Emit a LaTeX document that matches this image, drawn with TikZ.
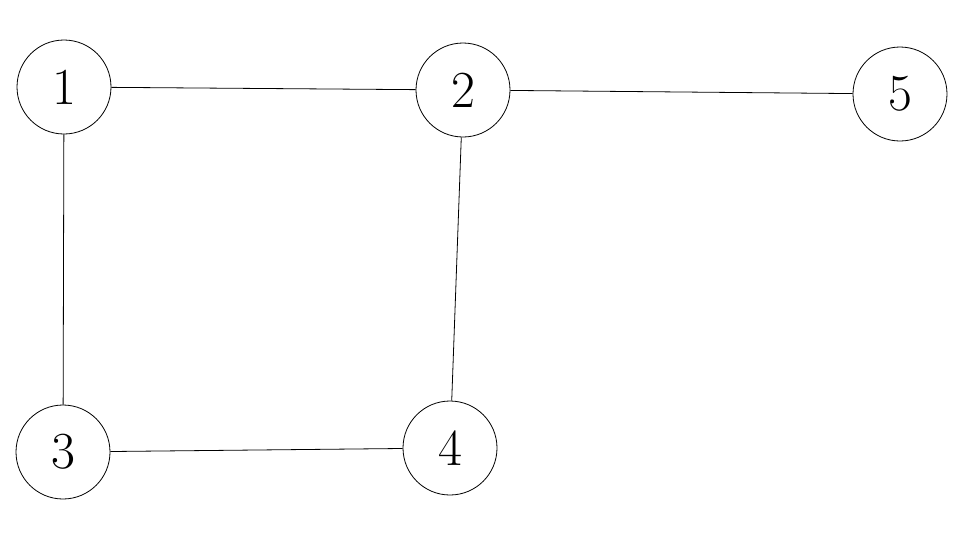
\documentclass[tikz,border=0pt]{standalone}
\usepackage{tikz}
\usetikzlibrary{positioning}

\begin{document}
\begin{tikzpicture}[
      x=0.5pt,y=-0.5pt,
      vertex/.style={circle,draw=black,thin,fill=white,inner sep=0pt,
        minimum size=47pt,font=\fontsize{26}{30}\selectfont},
      link/.style={draw=black,thin}
    ]
      \useasboundingbox (0,0) rectangle (980,536);

      \node[vertex] (v1) at (64,87) {1};
      \node[vertex] (v2) at (463,90) {2};
      \node[vertex] (v5) at (900,94) {5};
      \node[vertex] (v3) at (63,452) {3};
      \node[vertex] (v4) at (450,448) {4};

      \draw[link] (v1) -- (v2);
      \draw[link] (v2) -- (v5);
      \draw[link] (v1) -- (v3);
      \draw[link] (v2) -- (v4);
      \draw[link] (v3) -- (v4);
    \end{tikzpicture}
\end{document}
